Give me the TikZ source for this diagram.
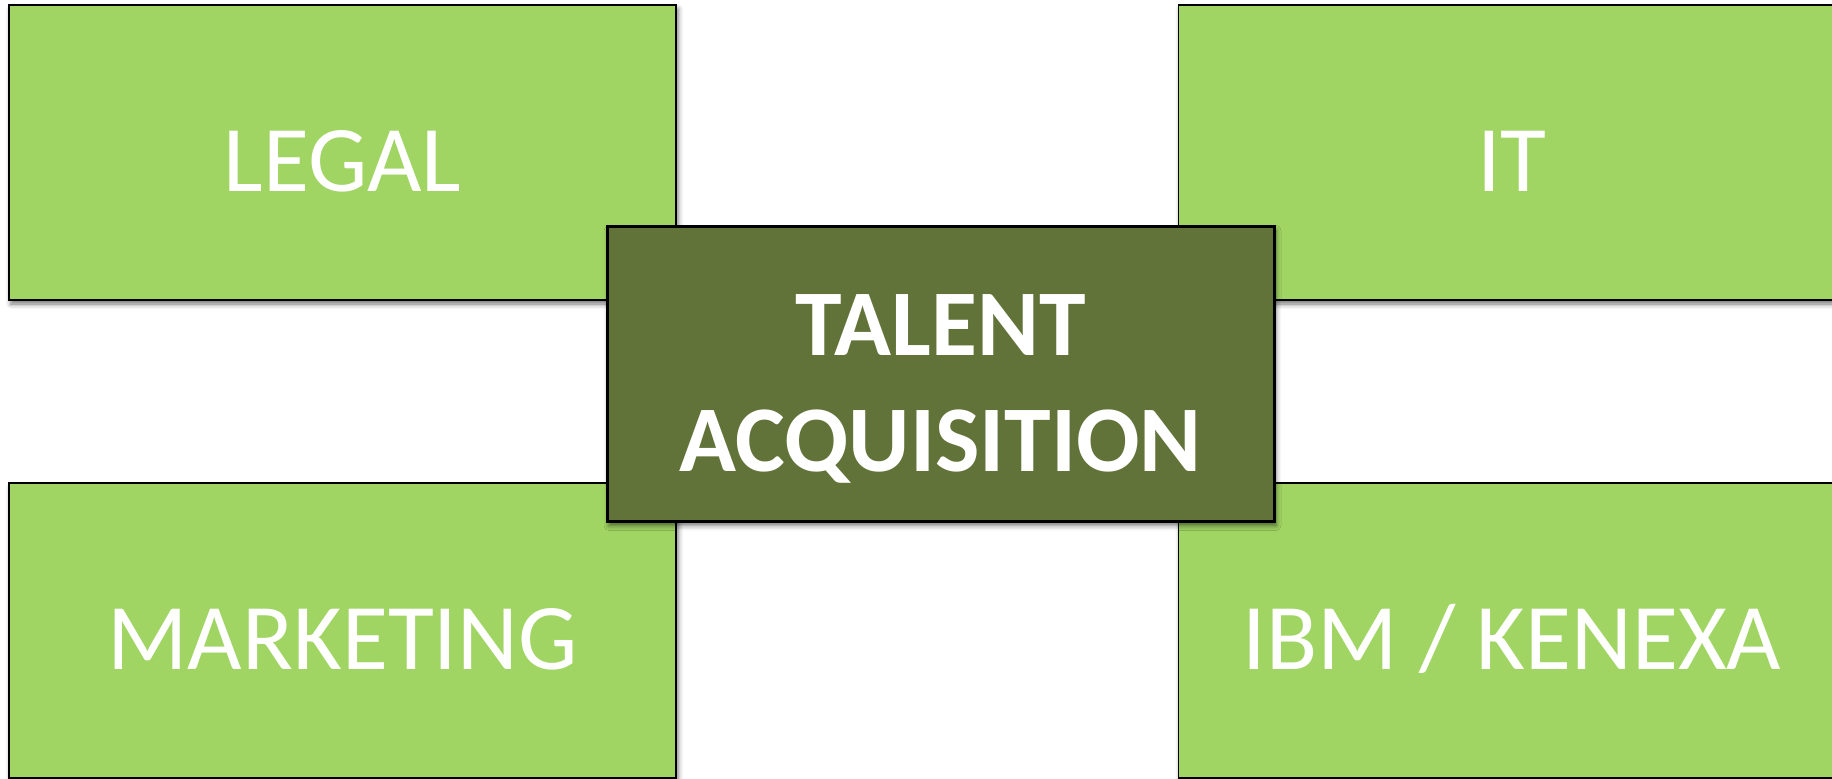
\documentclass[tikz,border=0pt]{standalone}
\usepackage{fontspec}
\setmainfont{Carlito}
\usetikzlibrary{positioning,shadows.blur}
\definecolor{leafgreen}{RGB}{161,213,99}
\definecolor{olivegreen}{RGB}{98,115,57}

\begin{document}
\begin{tikzpicture}[x=1pt,y=-1pt,
  dept node/.style={rectangle,fill=leafgreen,draw=black,line width=1.5pt,
    minimum width=667pt,minimum height=295pt,inner sep=0pt,outer sep=0pt,
    text=white,font=\fontsize{94}{116}\selectfont,text height=78pt,text depth=0pt,
    blur shadow={shadow xshift=2pt,shadow yshift=-4pt,shadow blur radius=5pt,shadow opacity=55}},
  main node/.style={dept node,fill=olivegreen,line width=3pt,align=center,
    font=\bfseries\fontsize{94}{116}\selectfont,text height=194pt,text depth=0pt}]

  \useasboundingbox (0,0) rectangle (1832,779);

  \node[dept node] (legal) at (342.5,152.5) {LEGAL};
  \node[dept node] (it) [right of=legal, node distance=1169.5pt] {IT};
  \node[dept node] (marketing) [below of=legal, node distance=478pt] {MARKETING};
  \node[dept node] (ibm) [below of=it, node distance=478pt] {IBM / KENEXA};

  \node[main node] (talent) at (940.5,374) {TALENT\\ACQUISITION};
\end{tikzpicture}
\end{document}
